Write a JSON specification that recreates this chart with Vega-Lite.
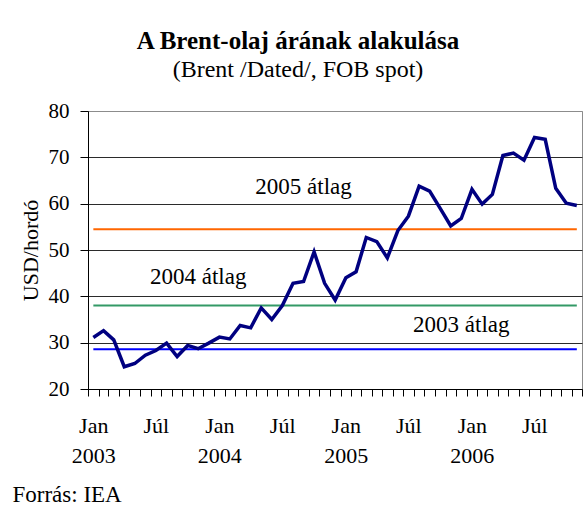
{
  "$schema": "https://vega.github.io/schema/vega-lite/v6.json",
  "width": 494,
  "height": 278,
  "autosize": {"type": "none"},
  "padding": {"left": 88, "top": 111, "right": 2, "bottom": 120},
  "background": "white",
  "title": {
    "text": "A Brent-olaj árának alakulása",
    "subtitle": "(Brent /Dated/, FOB spot)",
    "anchor": "middle",
    "dx": -37,
    "offset": 18,
    "font": "Liberation Serif",
    "fontSize": 25,
    "fontWeight": "bold",
    "color": "black",
    "subtitleFont": "Liberation Serif",
    "subtitleFontSize": 24,
    "subtitleColor": "black",
    "subtitlePadding": 4
  },
  "config": {
    "view": {"stroke": "#8c8c8c", "strokeWidth": 1},
    "axis": {
      "labelFont": "Liberation Serif",
      "titleFont": "Liberation Serif",
      "labelColor": "black",
      "titleColor": "black",
      "domainColor": "black",
      "tickColor": "black"
    }
  },
  "datasets": {
    "price": [
      {"month": "2003-01", "price": 31.1},
      {"month": "2003-02", "price": 32.6},
      {"month": "2003-03", "price": 30.6},
      {"month": "2003-04", "price": 24.8},
      {"month": "2003-05", "price": 25.5},
      {"month": "2003-06", "price": 27.3},
      {"month": "2003-07", "price": 28.3},
      {"month": "2003-08", "price": 29.9},
      {"month": "2003-09", "price": 27.0},
      {"month": "2003-10", "price": 29.4},
      {"month": "2003-11", "price": 28.7},
      {"month": "2003-12", "price": 29.9},
      {"month": "2004-01", "price": 31.2},
      {"month": "2004-02", "price": 30.8},
      {"month": "2004-03", "price": 33.7},
      {"month": "2004-04", "price": 33.2},
      {"month": "2004-05", "price": 37.5},
      {"month": "2004-06", "price": 35.0},
      {"month": "2004-07", "price": 38.0},
      {"month": "2004-08", "price": 42.8},
      {"month": "2004-09", "price": 43.2},
      {"month": "2004-10", "price": 49.6},
      {"month": "2004-11", "price": 42.8},
      {"month": "2004-12", "price": 39.2},
      {"month": "2005-01", "price": 44.0},
      {"month": "2005-02", "price": 45.3},
      {"month": "2005-03", "price": 52.7},
      {"month": "2005-04", "price": 51.8},
      {"month": "2005-05", "price": 48.3},
      {"month": "2005-06", "price": 54.2},
      {"month": "2005-07", "price": 57.3},
      {"month": "2005-08", "price": 63.8},
      {"month": "2005-09", "price": 62.7},
      {"month": "2005-10", "price": 59.0},
      {"month": "2005-11", "price": 55.2},
      {"month": "2005-12", "price": 56.8},
      {"month": "2006-01", "price": 63.1},
      {"month": "2006-02", "price": 59.9},
      {"month": "2006-03", "price": 62.0},
      {"month": "2006-04", "price": 70.4},
      {"month": "2006-05", "price": 70.9},
      {"month": "2006-06", "price": 69.4},
      {"month": "2006-07", "price": 74.3},
      {"month": "2006-08", "price": 73.9},
      {"month": "2006-09", "price": 63.3},
      {"month": "2006-10", "price": 60.1},
      {"month": "2006-11", "price": 59.6}
    ],
    "averages": [
      {"name": "2003 átlag", "month": "2003-01", "avg": 28.6},
      {"name": "2003 átlag", "month": "2006-11", "avg": 28.6},
      {"name": "2004 átlag", "month": "2003-01", "avg": 38.0},
      {"name": "2004 átlag", "month": "2006-11", "avg": 38.0},
      {"name": "2005 átlag", "month": "2003-01", "avg": 54.5},
      {"name": "2005 átlag", "month": "2006-11", "avg": 54.5}
    ],
    "notes": [
      {"name": "2003 átlag", "month": "2005-12", "y": 32.4},
      {"name": "2004 átlag", "month": "2003-11", "y": 42.6},
      {"name": "2005 átlag", "month": "2004-09", "y": 62.0}
    ]
  },
  "layer": [
    {
      "data": {"name": "averages"},
      "mark": {"type": "line", "strokeWidth": 2},
      "encoding": {
        "x": {"field": "month", "type": "temporal", "timeUnit": "utcyearmonth", "bandPosition": 0.5},
        "y": {"field": "avg", "type": "quantitative"},
        "color": {
          "field": "name",
          "type": "nominal",
          "scale": {"domain": ["2003 átlag", "2004 átlag", "2005 átlag"], "range": ["#0000FF", "#339966", "#FF6600"]},
          "legend": null
        }
      }
    },
    {
      "data": {"name": "price"},
      "mark": {"type": "line", "color": "#000080", "strokeWidth": 3.5, "strokeJoin": "miter"},
      "encoding": {
        "x": {
          "field": "month",
          "type": "temporal",
          "timeUnit": "utcyearmonth",
          "bandPosition": 0.5,
          "scale": {
            "type": "utc",
            "domain": [
              {"year": 2003, "month": 1, "date": 1, "utc": true},
              {"year": 2006, "month": 12, "date": 1, "utc": true}
            ],
            "nice": false
          },
          "axis": {
            "title": "Forrás: IEA",
            "titleX": -76,
            "titleY": 112,
            "titleAlign": "left",
            "titleAnchor": "start",
            "titleBaseline": "alphabetic",
            "titleFontSize": 23,
            "titleFontWeight": "normal",
            "tickCount": {"interval": "month", "step": 1},
            "labelExpr": "utcFormat(datum.value,'%m')=='01' ? ['Jan', utcFormat(datum.value,'%Y')] : (utcFormat(datum.value,'%m')=='07' ? 'Júl' : '')",
            "labelAngle": 0,
            "labelOverlap": false,
            "labelFlush": false,
            "labelBound": false,
            "labelFontSize": 22,
            "labelLineHeight": 30,
            "labelPadding": 19,
            "labelBaseline": "top",
            "labelAlign": "center",
            "labelOffset": 5.25,
            "ticks": true,
            "tickSize": 7,
            "tickWidth": 1,
            "grid": false,
            "domainWidth": 1
          }
        },
        "y": {
          "field": "price",
          "type": "quantitative",
          "scale": {"domain": [20, 80], "nice": false, "zero": false},
          "axis": {
            "title": "USD/hordó",
            "titleFontSize": 22,
            "titleFontWeight": "normal",
            "titleX": -58,
            "titleY": 139,
            "titleAngle": -90,
            "titleAlign": "center",
            "titleBaseline": "middle",
            "values": [20, 30, 40, 50, 60, 70, 80],
            "labelFontSize": 21,
            "labelPadding": 11,
            "tickSize": 8,
            "grid": true,
            "gridColor": {"condition": {"test": "datum.value == 80", "value": "#8c8c8c"}, "value": "#2b2b2b"},
            "gridWidth": 1
          }
        }
      }
    },
    {
      "data": {"name": "notes"},
      "mark": {"type": "text", "font": "Liberation Serif", "fontSize": 23, "baseline": "alphabetic", "align": "center", "color": "black"},
      "encoding": {
        "x": {"field": "month", "type": "temporal", "timeUnit": "utcyearmonth", "bandPosition": 0.5},
        "y": {"field": "y", "type": "quantitative"},
        "text": {"field": "name"}
      }
    }
  ]
}
